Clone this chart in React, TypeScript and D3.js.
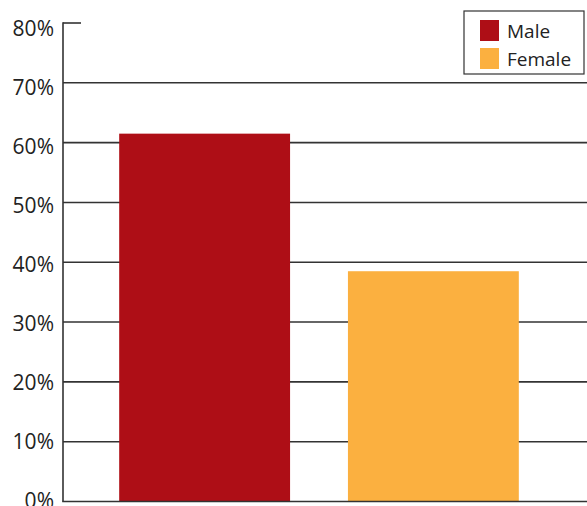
import React from "react";
import * as d3 from "d3";

const categories = ["Male", "Female"];
const values = [61.5, 38.5];
const colors = ["#AE0E16", "#FBB040"];
const yTicks = [0, 10, 20, 30, 40, 50, 60, 70, 80];

const W = 587;
const H = 506;

export default function App() {
  const y = d3.scaleLinear().domain([0, 80]).range([501.5, 23]);
  const yLabel = d3.scaleLinear().domain([0, 80]).range([507.5, 35.5]);
  const x = d3
    .scaleBand<string>()
    .domain(categories)
    .range([62, 576])
    .paddingInner(0.253)
    .paddingOuter(0.25);
  const axisX = 63;
  const font = "'Open Sans', 'DejaVu Sans', sans-serif";

  return (
    <svg
      width={W}
      height={H}
      style={{ position: "absolute", left: 0, top: 0, background: "#fff" }}
    >
      {/* gridlines */}
      {yTicks
        .filter((t) => t > 0 && t < 80)
        .map((t) => (
          <line
            key={t}
            x1={axisX}
            x2={W}
            y1={y(t)}
            y2={y(t)}
            stroke="#333"
            strokeWidth={1.6}
          />
        ))}
      {/* top tick */}
      <line x1={axisX} x2={81} y1={y(80)} y2={y(80)} stroke="#333" strokeWidth={1.6} />
      {/* bars */}
      {categories.map((c, i) => (
        <rect
          key={c}
          x={x(c)}
          y={y(values[i])}
          width={x.bandwidth()}
          height={y(0) - y(values[i])}
          fill={colors[i]}
        />
      ))}
      {/* axes */}
      <line x1={axisX} x2={axisX} y1={y(80) - 0.8} y2={y(0)} stroke="#333" strokeWidth={1.6} />
      <line x1={axisX - 0.8} x2={W} y1={y(0)} y2={y(0)} stroke="#333" strokeWidth={1.6} />
      {/* tick labels */}
      {yTicks.map((t) => (
        <text
          key={t}
          x={54}
          y={yLabel(t)}
          textAnchor="end"
          fontFamily={font}
          fontSize={21}
          fill="#222"
        >
          {t}%
        </text>
      ))}
      {/* legend */}
      <rect x={464} y={11} width={120} height={63} fill="#fff" stroke="#333" strokeWidth={1.2} />
      {categories.map((c, i) => (
        <g key={c}>
          <rect x={480} y={20 + i * 28} width={19} height={21} fill={colors[i]} />
          <text
            x={507}
            y={38 + i * 28}
            fontFamily={font}
            fontSize={19}
            fill="#222"
          >
            {c}
          </text>
        </g>
      ))}
    </svg>
  );
}
